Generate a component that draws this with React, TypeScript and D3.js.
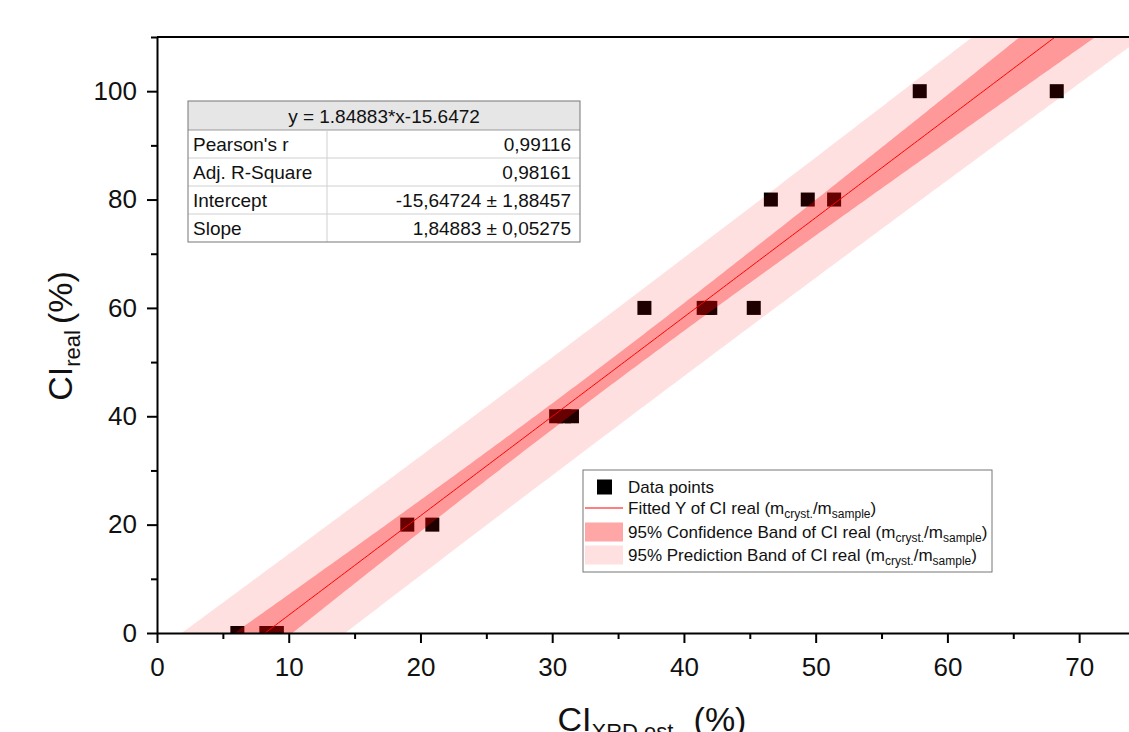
import React, { useEffect, useRef } from "react";
import * as d3 from "d3";

// CI XRD estimated (%) vs CI real (%)
const ciXrdEst = [6.1, 8.3, 8.6, 8.9, 9.1, 19.0, 20.9, 30.3, 30.9, 31.5, 37.0, 41.5, 41.8, 42.0, 45.3, 46.6, 49.4, 51.4, 57.9, 68.3];
const ciReal = [0, 0, 0, 0, 0, 20, 20, 40, 40, 40, 60, 60, 60, 60, 60, 80, 80, 80, 100, 100];

const xMajorTicks = [0, 10, 20, 30, 40, 50, 60, 70];
const xMinorTicks = [5, 15, 25, 35, 45, 55, 65, 75];
const yMajorTicks = [0, 20, 40, 60, 80, 100];
const yMinorTicks = [10, 30, 50, 70, 90, 110];

const fitEquation = "y = 1.84883*x-15.6472";
const statNames = ["Pearson's r", "Adj. R-Square", "Intercept", "Slope"];
const statValues = ["0,99116", "0,98161", "-15,64724 \u00b1 1,88457", "1,84883 \u00b1 0,05275"];

const legendNames = ["Data points", "Fitted Y of CI real", "95% Confidence Band of CI real", "95% Prediction Band of CI real"];

const FONT = "'Liberation Sans', Arial, sans-serif";

// two-sided 95% t quantile (Cornish-Fisher expansion)
const tInv975 = (df: number) => {
  const z = 1.959964;
  const z3 = z ** 3, z5 = z ** 5, z7 = z ** 7;
  return z + (z3 + z) / (4 * df) + (5 * z5 + 16 * z3 + 3 * z) / (96 * df * df) +
    (3 * z7 + 19 * z5 + 17 * z3 - 15 * z) / (384 * df ** 3);
};

const App = () => {
  const ref = useRef<SVGSVGElement | null>(null);

  useEffect(() => {
    const width = 1129, height = 732;
    const svg = d3.select(ref.current);
    svg.selectAll("*").remove();

    const x = d3.scaleLinear().domain([0, 75]).range([157, 1145]);
    const y = d3.scaleLinear().domain([0, 110]).range([633, 37]);

    // linear regression
    const n = ciXrdEst.length;
    const mx = d3.mean(ciXrdEst) as number;
    const my = d3.mean(ciReal) as number;
    const sxx = d3.sum(ciXrdEst, v => (v - mx) ** 2);
    const sxy = d3.sum(ciXrdEst.map((v, i) => (v - mx) * (ciReal[i] - my)));
    const b = sxy / sxx;
    const a = my - b * mx;
    const sse = d3.sum(ciXrdEst.map((v, i) => (ciReal[i] - a - b * v) ** 2));
    const s = Math.sqrt(sse / (n - 2));
    const t = tInv975(n - 2);
    const half = (xv: number, pred: boolean) => t * s * Math.sqrt((pred ? 1 : 0) + 1 / n + (xv - mx) ** 2 / sxx);

    const xs = d3.range(0, 75.001, 0.25);

    svg.append("defs").append("clipPath").attr("id", "plotClip")
      .append("rect")
      .attr("x", x(0)).attr("y", y(110))
      .attr("width", x(75) - x(0)).attr("height", y(0) - y(110));

    const plot = svg.append("g").attr("clip-path", "url(#plotClip)");

    // data squares
    plot.selectAll(".pt")
      .data(ciXrdEst.map((v, i) => [v, ciReal[i]]))
      .enter().append("rect")
      .attr("x", d => x(d[0]) - 7)
      .attr("y", d => y(d[1]) - 7)
      .attr("width", 14)
      .attr("height", 14)
      .attr("fill", "#000");

    const band = (pred: boolean) => d3.area<number>()
      .x(d => x(d))
      .y0(d => y(a + b * d - half(d, pred)))
      .y1(d => y(a + b * d + half(d, pred)));

    plot.append("path").attr("d", band(true)(xs)).attr("fill", "#ff0000").attr("fill-opacity", 0.12);
    plot.append("path").attr("d", band(false)(xs)).attr("fill", "#ff0000").attr("fill-opacity", 0.32);

    plot.append("path")
      .attr("d", d3.line<number>().x(d => x(d)).y(d => y(a + b * d))(xs))
      .attr("fill", "none")
      .attr("stroke", "#ff0000")
      .attr("stroke-width", 1);

    // axes
    const styleAxis = (g: any, fontSize: number) => {
      g.select(".domain").attr("stroke", "#000").attr("stroke-width", 2);
      g.selectAll(".tick line").attr("stroke", "#000").attr("stroke-width", 2);
      g.selectAll(".tick text").style("font-family", FONT).style("font-size", `${fontSize}px`).attr("fill", "#111");
    };

    const gx = svg.append("g").attr("transform", `translate(0,${y(0)})`)
      .call(d3.axisBottom(x).tickValues(xMajorTicks).tickSize(10).tickSizeOuter(0).tickPadding(15).tickFormat(d3.format("d")));
    styleAxis(gx, 26);
    const gxm = svg.append("g").attr("transform", `translate(0,${y(0)})`)
      .call(d3.axisBottom(x).tickValues(xMinorTicks).tickSize(6).tickSizeOuter(0).tickFormat(() => ""));
    gxm.select(".domain").remove();
    styleAxis(gxm, 26);

    const gy = svg.append("g").attr("transform", `translate(${x(0)},0)`)
      .call(d3.axisLeft(y).tickValues(yMajorTicks).tickSize(10).tickSizeOuter(0).tickPadding(10).tickFormat(d3.format("d")));
    styleAxis(gy, 26);
    const gym = svg.append("g").attr("transform", `translate(${x(0)},0)`)
      .call(d3.axisLeft(y).tickValues(yMinorTicks).tickSize(6).tickSizeOuter(0).tickFormat(() => ""));
    gym.select(".domain").remove();
    styleAxis(gym, 26);

    svg.append("line")
      .attr("x1", x(0)).attr("x2", x(75))
      .attr("y1", y(110)).attr("y2", y(110))
      .attr("stroke", "#000").attr("stroke-width", 2);

    // axis titles
    const xt = svg.append("text")
      .attr("x", 652).attr("y", 731)
      .attr("text-anchor", "middle")
      .style("font-family", FONT).style("font-size", "34px").attr("fill", "#111");
    xt.append("tspan").text("CI");
    xt.append("tspan").attr("dy", 8).style("font-size", "22px").text("XRD est.");
    xt.append("tspan").attr("dy", -8).attr("dx", 14).text("(%)");

    const yt = svg.append("text")
      .attr("transform", "translate(72,336) rotate(-90)")
      .attr("text-anchor", "middle")
      .style("font-family", FONT).style("font-size", "34px").attr("fill", "#111");
    yt.append("tspan").text("CI");
    yt.append("tspan").attr("dy", 8).style("font-size", "22px").text("real");
    yt.append("tspan").attr("dy", -8).attr("dx", 6).text("(%)");

    // statistics table
    const tbl = svg.append("g").attr("transform", "translate(188,101)");
    const tW = 392, headH = 29, rowH = 28, colX = 139;
    tbl.append("rect").attr("width", tW).attr("height", headH + rowH * statNames.length).attr("fill", "#fff");
    tbl.append("rect").attr("width", tW).attr("height", headH).attr("fill", "#e6e6e6");
    statNames.forEach((_, i) => {
      tbl.append("line")
        .attr("x1", 0).attr("x2", tW)
        .attr("y1", headH + rowH * i).attr("y2", headH + rowH * i)
        .attr("stroke", i === 0 ? "#999" : "#d0d0d0").attr("stroke-width", 1);
    });
    tbl.append("line")
      .attr("x1", colX).attr("x2", colX)
      .attr("y1", headH).attr("y2", headH + rowH * statNames.length)
      .attr("stroke", "#d0d0d0");
    tbl.append("rect").attr("width", tW).attr("height", headH + rowH * statNames.length)
      .attr("fill", "none").attr("stroke", "#777").attr("stroke-width", 1);
    tbl.append("text")
      .attr("x", tW / 2).attr("y", 21.5)
      .attr("text-anchor", "middle")
      .style("font-family", FONT).style("font-size", "19px").attr("fill", "#111")
      .text(fitEquation);
    statNames.forEach((name, i) => {
      const ty = headH + rowH * i + 20.5;
      tbl.append("text").attr("x", 5).attr("y", ty)
        .style("font-family", FONT).style("font-size", "19px").attr("fill", "#111").text(name);
      tbl.append("text").attr("x", tW - 9).attr("y", ty).attr("text-anchor", "end")
        .style("font-family", FONT).style("font-size", "19px").attr("fill", "#111").text(statValues[i]);
    });

    // legend
    const lg = svg.append("g").attr("transform", "translate(583,470)");
    lg.append("rect").attr("width", 409).attr("height", 102)
      .attr("fill", "#fff").attr("stroke", "#777").attr("stroke-width", 1);
    const rowY = [17, 38, 62, 85];
    lg.append("rect").attr("x", 14).attr("y", rowY[0] - 7.5).attr("width", 15).attr("height", 15).attr("fill", "#000");
    lg.append("line").attr("x1", 2).attr("x2", 40).attr("y1", rowY[1]).attr("y2", rowY[1])
      .attr("stroke", "#ff0000").attr("stroke-width", 1);
    lg.append("rect").attr("x", 2).attr("y", rowY[2] - 9.5).attr("width", 38).attr("height", 19)
      .attr("fill", "#ff0000").attr("fill-opacity", 0.35);
    lg.append("rect").attr("x", 2).attr("y", rowY[3] - 9.5).attr("width", 38).attr("height", 19)
      .attr("fill", "#ff0000").attr("fill-opacity", 0.12);

    legendNames.forEach((name, i) => {
      const tx = lg.append("text").attr("x", 45).attr("y", rowY[i] + 6)
        .style("font-family", FONT).style("font-size", "17px").attr("fill", "#111");
      if (i === 0) {
        tx.text(name);
        return;
      }
      tx.append("tspan").text(`${name} (m`);
      tx.append("tspan").attr("dy", 4).style("font-size", "12px").text("cryst.");
      tx.append("tspan").attr("dy", -4).text("/m");
      tx.append("tspan").attr("dy", 4).style("font-size", "12px").text("sample");
      tx.append("tspan").attr("dy", -4).text(")");
    });

    svg.attr("width", width).attr("height", height);
  }, []);

  return (
    <div style={{ position: "absolute", left: 0, top: 0, width: 1129, height: 732, background: "#fff" }}>
      <svg ref={ref} width={1129} height={732} style={{ display: "block" }} />
    </div>
  );
};

export default App;
